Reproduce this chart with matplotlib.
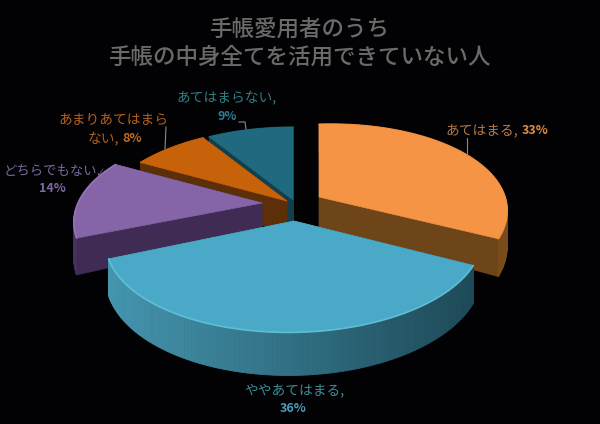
import numpy as np
import matplotlib
matplotlib.use('Agg')
import matplotlib.pyplot as plt
from matplotlib.collections import PolyCollection
from matplotlib.colors import to_rgb

plt.rcParams['font.family'] = ['Noto Sans CJK JP', 'DejaVu Sans']

title = '手帳愛用者のうち\n手帳の中身全てを活用できていない人'
names = ['あてはまる', 'ややあてはまる', 'どちらでもない', 'あまりあてはまらない', 'あてはまらない']
values = [33, 36, 14, 8, 9]

# styles per slice
topColors = ['#F59445', '#4AA9C7', '#8564A8', '#C8620A', '#1F6A7E']
cutColors = ['#6E4419', '#2A6072', '#3F2B53', '#5C2F08', '#123F4C']
sideLeft = ['#6E4419', '#4596B0', '#46305C', '#5C2F08', '#123F4C']
sideRight = ['#7A4B1C', '#1E4A58', '#3F2B53', '#5C2F08', '#123F4C']
rimColors = ['#F59445', '#66C6DC', '#9A7CBC', '#C8620A', '#1F6A7E']
apexX = [319, 294, 262, 287, 293]
apexY = [197, 221, 203, 201, 200]
shear = [-0.03, -0.015, 0, 0, 0]
drawOrder = [4, 3, 0, 2, 1]

RX, RY, PERSP, DEPTH = 184, 88, 0.21, 34


def project(i, theta):
    # theta runs clockwise from 12 o'clock, y is toward the viewer
    xv = np.sin(theta)
    yv = -np.cos(theta)
    s = 1 / (1 - PERSP * yv)
    px = apexX[i] + RX * xv * s
    py = apexY[i] + RY * yv * s + shear[i] * RX * xv * s
    return px, py, s


def draw_slice(ax, i, start, end):
    x0, y0 = apexX[i], apexY[i]
    thetas = np.linspace(start, end, 120)
    xs, ys, ss = project(i, thetas)
    low = ys + DEPTH * ss
    apexLow = y0 + DEPTH * 0.9

    # straight cut faces
    for k in (0, -1):
        ax.fill([x0, xs[k], xs[k], x0], [y0, ys[k], low[k], apexLow],
                color=cutColors[i], lw=0.5, zorder=1)

    # outer wall, shaded left to right
    quads = []
    cols = []
    left = np.array(to_rgb(sideLeft[i]))
    right = np.array(to_rgb(sideRight[i]))
    for k in range(len(xs) - 1):
        quads.append([(xs[k], ys[k]), (xs[k + 1], ys[k + 1]), (xs[k + 1], low[k + 1]), (xs[k], low[k])])
        t = np.clip((xs[k] - xs.min()) / max(xs.max() - xs.min(), 1), 0, 1)
        cols.append(left + (right - left) * t)
    ax.add_collection(PolyCollection(quads, facecolors=cols, edgecolors=cols, linewidths=0.6, zorder=1))

    # top face and the soft rim
    ax.fill(np.r_[x0, xs], np.r_[y0, ys], color=topColors[i], lw=0.5, zorder=1)
    ax.plot(xs, ys, color=rimColors[i], lw=1.2, alpha=0.8, zorder=1, solid_capstyle='round')


fig = plt.figure(figsize=(6, 4.24), dpi=100, facecolor='#020204')
ax = fig.add_axes([0, 0, 1, 1])
ax.set_xlim(0, 600)
ax.set_ylim(424, 0)
ax.axis('off')

edges = np.cumsum([0] + values) / sum(values) * 2 * np.pi
for i in drawOrder:
    draw_slice(ax, i, edges[i], edges[i + 1])

ax.text(300, 43, title, color='#6A6A6A', fontsize=16.2, ha='center', va='center',
        linespacing=1.3, fontweight='medium')

# leader lines
ax.plot([467, 467], [138, 155], color='#8a8a8a', lw=0.8)
ax.plot([166, 165], [127, 149], color='#8a8a8a', lw=0.8)
ax.plot([239, 245, 246], [122, 122, 129], color='#8a8a8a', lw=0.8)
ax.plot([99, 103], [175, 169], color='#555555', lw=0.7)

# data labels
fs = 9.9
ax.text(518, 130, names[0] + ',', color='#B0794A', fontsize=fs, ha='right', va='center')
ax.text(522, 130, '%d%%' % values[0], color='#E08A42', fontsize=fs - 0.9, fontweight='bold', ha='left', va='center')

ax.text(294, 390, names[1] + ',', color='#3E8C98', fontsize=fs, ha='center', va='center')
ax.text(293, 409, '%d%%' % values[1], color='#4A9DBA', fontsize=fs - 0.9, fontweight='bold', ha='center', va='center')

ax.text(52, 170, names[2] + ',', color='#7A6A96', fontsize=fs - 0.3, ha='center', va='center')
ax.text(52, 188, '%d%%' % values[2], color='#7F68A0', fontsize=fs - 0.9, fontweight='bold', ha='center', va='center')

ax.text(113, 120, names[3][:8], color='#B5601A', fontsize=fs, ha='center', va='center')
ax.text(119, 139, names[3][8:] + ',', color='#B5601A', fontsize=fs, ha='right', va='center')
ax.text(122, 139, '%d%%' % values[3], color='#C06A1E', fontsize=fs - 0.9, fontweight='bold', ha='left', va='center')

ax.text(227, 98, names[4] + ',', color='#2F7F85', fontsize=fs, ha='center', va='center')
ax.text(227, 116, '%d%%' % values[4], color='#2E7C90', fontsize=fs - 0.9, fontweight='bold', ha='center', va='center')

fig.savefig('out.png', dpi=100, facecolor=fig.get_facecolor())
